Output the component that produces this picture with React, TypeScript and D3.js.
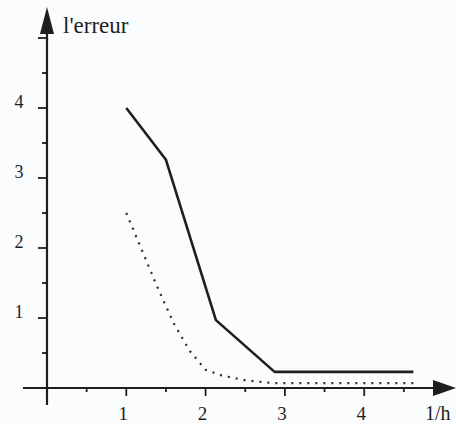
import { line, scaleLinear, curveLinear } from 'd3';
import React from 'react';

// values
const solidX = [1, 1.5, 2.13, 2.87, 4.62];
const solidY = [4, 3.26, 0.97, 0.23, 0.23];
const dottedX = [1, 1.2, 1.4, 1.6, 1.8, 2.0, 2.2, 2.5, 2.85, 4.62];
const dottedY = [2.5, 1.96, 1.42, 0.92, 0.53, 0.26, 0.18, 0.11, 0.07, 0.07];
const xMajor = [1, 2, 3, 4];
const xMinor = [0.5, 1.5, 2.5, 3.5, 4.5];
const yMajor = [1, 2, 3, 4, 5];
const yMinor = [0.5, 1.5, 2.5, 3.5, 4.5];
const yLabels = ['1', '2', '3', '4'];
const xLabels = ['1', '2', '3', '4'];
const yTitle = "l'erreur";
const xTitle = '1/h';

const W = 456;
const H = 424;

const App = () => {
  const x = scaleLinear().domain([0, 5]).range([47, 47 + 5 * 79.3]);
  const y = scaleLinear().domain([0, 5]).range([388, 38]);

  const mkLine = line<[number, number]>()
    .x((d) => x(d[0]))
    .y((d) => y(d[1]))
    .curve(curveLinear);

  const solid = mkLine(solidX.map((v, i): [number, number] => [v, solidY[i]]));
  const dotted = mkLine(dottedX.map((v, i): [number, number] => [v, dottedY[i]]));

  const x0 = x(0);
  const y0 = y(0);
  const ink = '#1e1e1e';

  return (
    <div style={{ position: 'fixed', left: 0, top: 0 }}>
      <svg width={W} height={H} style={{ display: 'block', fontFamily: '"Liberation Serif", serif' }}>
        <rect width={W} height={H} fill="#fbfcfd" />

        {/* axes */}
        <line x1={x0} x2={x0} y1={405} y2={30} stroke={ink} strokeWidth={2.2} />
        <polygon points={`${x0},7 ${x0 - 7},34 ${x0 + 7},34`} fill={ink} />
        <line x1={23} x2={438} y1={y0} y2={y0} stroke={ink} strokeWidth={2} />
        <polygon points={`456,${y0} 433,${y0 - 8} 433,${y0 + 8}`} fill={ink} />

        {/* y ticks */}
        {yMajor.map((t) => (
          <line key={'ym' + t} x1={x0 - 9} x2={x0} y1={y(t)} y2={y(t)} stroke={ink} strokeWidth={1.8} />
        ))}
        {yMinor.map((t) => (
          <line key={'yn' + t} x1={x0 - 5} x2={x0} y1={y(t)} y2={y(t)} stroke={ink} strokeWidth={1.8} />
        ))}
        {yLabels.map((l, i) => (
          <text key={'yl' + l} x={19} y={y(i + 1)} textAnchor="middle" fontSize={18} fill={ink}>
            {l}
          </text>
        ))}

        {/* x ticks */}
        {xMajor.map((t) => (
          <line key={'xm' + t} x1={x(t)} x2={x(t)} y1={y0} y2={y0 + 8} stroke={ink} strokeWidth={1.8} />
        ))}
        {xMinor.map((t) => (
          <line key={'xn' + t} x1={x(t)} x2={x(t)} y1={y0} y2={y0 + 4} stroke={ink} strokeWidth={1.8} />
        ))}
        {xLabels.map((l, i) => (
          <text key={'xl' + l} x={x(i + 1) - 3} y={420} textAnchor="middle" fontSize={19} fill={ink}>
            {l}
          </text>
        ))}

        <text x={63} y={33} fontSize={23} fill={ink}>
          {yTitle}
        </text>
        <text x={425} y={420} fontSize={20} fill={ink}>
          {xTitle}
        </text>

        {/* curves */}
        <path d={solid ?? ''} fill="none" stroke={ink} strokeWidth={2.6} strokeLinejoin="round" />
        <path d={dotted ?? ''} fill="none" stroke="#2a2a2a" strokeWidth={2.2} strokeDasharray="2 6" />
      </svg>
    </div>
  );
};

export default App;
